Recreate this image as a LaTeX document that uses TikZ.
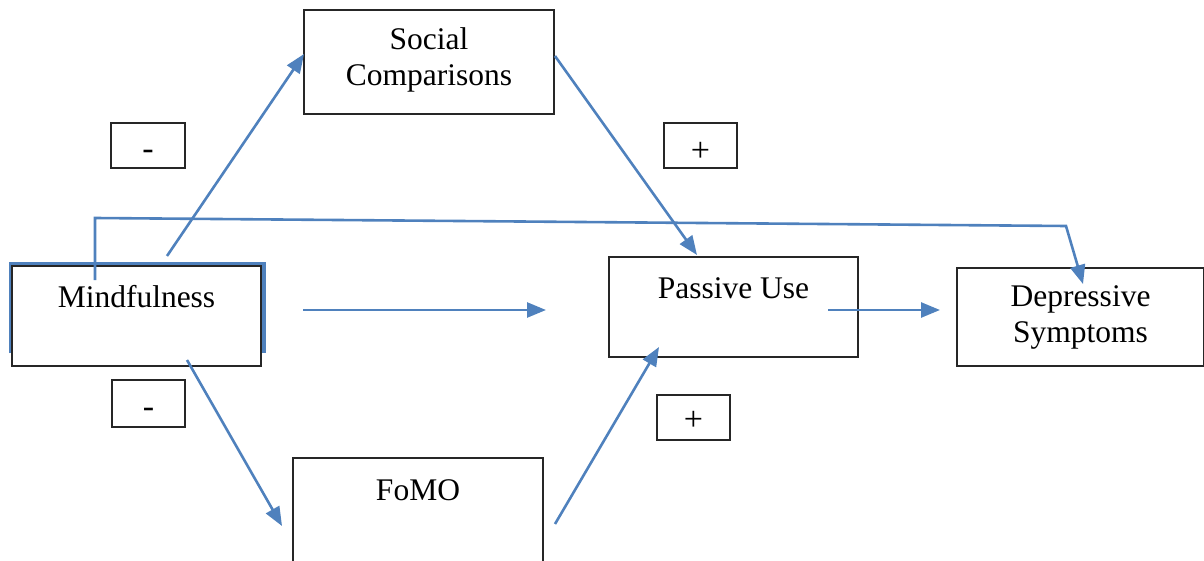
\documentclass[tikz,border=0pt]{standalone}
\usepackage{fontspec}
\setmainfont{Liberation Serif}
\usetikzlibrary{arrows.meta}
\definecolor{linkblue}{HTML}{4F81BD}
\definecolor{boxline}{HTML}{262626}
\tikzset{
  box/.style={draw=boxline, line width=1.5pt, fill=white, rectangle, inner sep=0pt},
  signbox/.style={draw=boxline, line width=1.4pt, fill=white, rectangle, inner sep=0pt},
  lbl/.style={font=\fontsize{31.5}{36}\selectfont, align=center, inner sep=0pt},
  signlbl/.style={font=\fontsize{34}{36}\selectfont, inner sep=0pt},
  link/.style={draw=linkblue, line width=2.6pt, -{Triangle[length=19pt,width=15pt]}},
}
\begin{document}
\begin{tikzpicture}[x=1pt,y=-1pt]
\useasboundingbox (0,0) rectangle (1204,561);
\clip (0,0) rectangle (1204,561);

% blue frame sitting behind the Mindfulness box
\draw[linkblue, line width=4pt] (11,353) -- (11,264) -- (264,264) -- (264,353);

% boxes
\node[box, minimum width=249pt, minimum height=100pt] (mind) at (136.5,316) {};
\node[box, minimum width=250pt, minimum height=104pt] (social) at (429,62) {};
\node[box, minimum width=249pt, minimum height=100pt] (passive) at (733.5,307) {};
\node[box, minimum width=247pt, minimum height=98pt] (dep) at (1080.5,317) {};
\node[box, minimum width=250pt, minimum height=106pt] (fomo) at (418,511) {};

% box labels
\node[lbl] (mindtxt) at (136.5,297) {Mindfulness};
\node[lbl] (socialtxt) at (429,60) {Social\\Comparisons};
\node[lbl] (passivetxt) at (733.5,288) {Passive Use};
\node[lbl] (deptxt) at (1080.5,317) {Depressive\\Symptoms};
\node[lbl] (fomotxt) at (418,490) {FoMO};

% sign boxes
\node[signbox, minimum width=74pt, minimum height=45pt] (s1) at (148,145.5) {};
\node[signbox, minimum width=73pt, minimum height=45pt] (s2) at (700.5,145.5) {};
\node[signbox, minimum width=73pt, minimum height=47pt] (s3) at (148.5,403.5) {};
\node[signbox, minimum width=73pt, minimum height=45pt] (s4) at (693.5,417.5) {};
\node[signlbl] (s1t) at (148,155) {-};
\node[signlbl] (s2t) at (700.5,152) {+};
\node[signlbl] (s3t) at (148.5,413) {-};
\node[signlbl] (s4t) at (693.5,421) {+};

% connector end points
\coordinate (m2s-a) at (167,256);
\coordinate (m2s-b) at (304,54);
\coordinate (s2p-a) at (555,56);
\coordinate (s2p-b) at (697,255);
\coordinate (m2p-a) at (303,310);
\coordinate (m2p-b) at (546,310);
\coordinate (p2d-a) at (828,310);
\coordinate (p2d-b) at (940,310);
\coordinate (m2f-a) at (187,360);
\coordinate (m2f-b) at (282,526);
\coordinate (f2p-a) at (555,524);
\coordinate (f2p-b) at (659,347);
\coordinate (m2d-a) at (95,280);
\coordinate (m2d-1) at (95,218);
\coordinate (m2d-2) at (1066,226);
\coordinate (m2d-b) at (1083,284);

% connectors
\draw[link] (m2s-a) -- (m2s-b);
\draw[link] (s2p-a) -- (s2p-b);
\draw[link] (m2p-a) -- (m2p-b);
\draw[link] (p2d-a) -- (p2d-b);
\draw[link] (m2f-a) -- (m2f-b);
\draw[link] (f2p-a) -- (f2p-b);
\draw[link] (m2d-a) -- (m2d-1) -- (m2d-2) -- (m2d-b);
\end{tikzpicture}
\end{document}
